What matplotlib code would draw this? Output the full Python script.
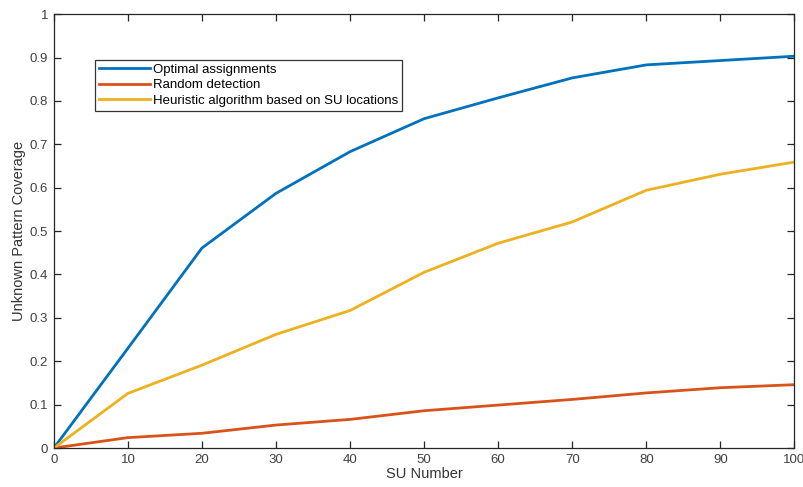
import numpy as np
import matplotlib
matplotlib.use('Agg')
import matplotlib.pyplot as plt

# data
su = [0, 10, 20, 30, 40, 50, 60, 70, 80, 90, 100]
optimal = [0, 0.23, 0.461, 0.587, 0.683, 0.759, 0.807, 0.853, 0.883, 0.893, 0.903]
random_det = [0, 0.024, 0.034, 0.053, 0.066, 0.086, 0.099, 0.112, 0.127, 0.139, 0.146]
heuristic = [0, 0.126, 0.191, 0.262, 0.317, 0.405, 0.472, 0.521, 0.594, 0.631, 0.659]

labels = ['Optimal assignments', 'Random detection',
          'Heuristic algorithm based on SU locations']
colors = [(0, 0.447, 0.741), (0.85, 0.325, 0.098), (0.929, 0.694, 0.125)]

plt.rcParams['font.family'] = ['Liberation Sans', 'DejaVu Sans']
fig = plt.figure(figsize=(8.04, 4.87), dpi=100)
ax = fig.add_axes([0.067, 0.080, 0.921, 0.891])

for ys, lab, c in zip([optimal, random_det, heuristic], labels, colors):
    ax.plot(su, ys, color=c, lw=2.0, label=lab)

ax.set_xlim(0, 100)
ax.set_ylim(0, 1)
ax.set_xticks(np.arange(0, 101, 10))
ax.set_yticks(np.arange(0, 1.01, 0.1))
ax.set_yticklabels(['0', '0.1', '0.2', '0.3', '0.4', '0.5', '0.6', '0.7', '0.8', '0.9', '1'])
ax.tick_params(direction='in', length=5, width=0.9, top=True, right=True,
               labelsize=9.5, colors='0.15', labelcolor='0.25', pad=4)
for s in ax.spines.values():
    s.set_color('0.15')
    s.set_linewidth(0.9)
ax.set_xlabel('SU Number', fontsize=10.5, color='0.2', labelpad=1)
ax.set_ylabel('Unknown Pattern Coverage', fontsize=10.5, color='0.2', labelpad=3)

leg = ax.legend(loc='upper left', bbox_to_anchor=(0.055, 0.895), fontsize=9.5,
                handlelength=3.9, handletextpad=0.2, borderpad=0.3,
                labelspacing=0.25, borderaxespad=0, fancybox=False, framealpha=1)
leg.get_frame().set_edgecolor('0.2')
leg.get_frame().set_linewidth(0.9)

fig.savefig('out.png', dpi=100)
